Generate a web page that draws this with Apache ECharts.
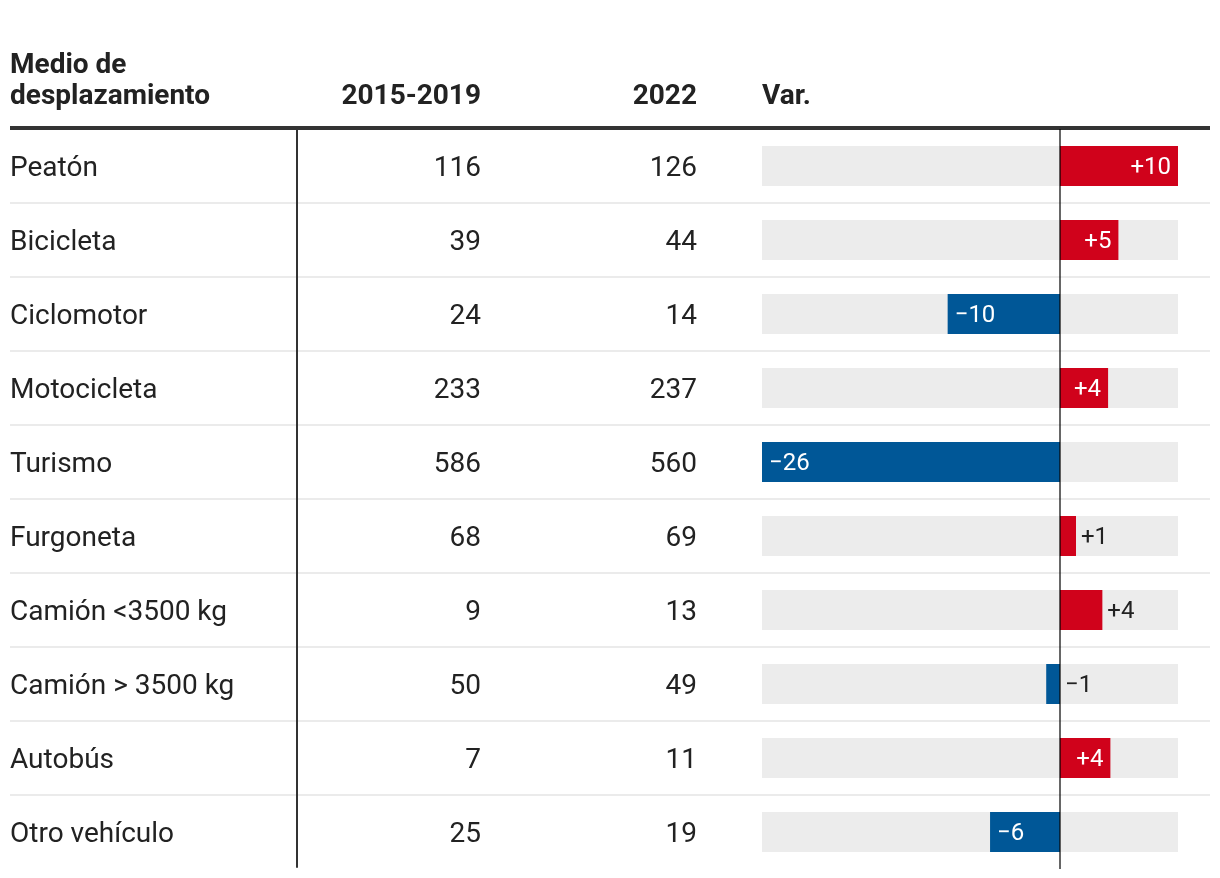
<!DOCTYPE html>
<html>
<head>
<meta charset="utf-8">
<script src="https://cdn.jsdelivr.net/npm/echarts@6/dist/echarts.min.js"></script>
<style>
  html, body { margin: 0; padding: 0; background: #fff; }
  #chart { width: 1220px; height: 878px; }
</style>
</head>
<body>
<div id="chart"></div>
<script>
const categorias = ['Peatón', 'Bicicleta', 'Ciclomotor', 'Motocicleta', 'Turismo', 'Furgoneta', 'Camión <3500 kg', 'Camión > 3500 kg', 'Autobús', 'Otro vehículo'];
const valores2015_2019 = [116, 39, 24, 233, 586, 68, 9, 50, 7, 25];
const valores2022 = [126, 44, 14, 237, 560, 69, 13, 49, 11, 19];
const variacion = [10.3, 5.1, -9.8, 4.2, -26.0, 1.4, 3.7, -1.2, 4.4, -6.1];
const encabezados = ['Medio de\ndesplazamiento', '2015-2019', '2022', 'Var.'];

const ROJO = '#d0021b';
const AZUL = '#005797';
const TXT = '#222222';
const FONT = 'Roboto';

function etiqueta(i) {
  const d = valores2022[i] - valores2015_2019[i];
  return (d > 0 ? '+' : d < 0 ? '\u2212' : '') + Math.abs(d);
}

const barData = variacion.map(function (v, i) {
  const inside = Math.abs(v) >= 4;
  let pos, dist;
  if (inside) { pos = v > 0 ? 'insideRight' : 'insideLeft'; dist = 7; }
  else { pos = 'right'; dist = 5; }
  return {
    value: v,
    itemStyle: { color: v >= 0 ? ROJO : AZUL },
    label: {
      show: true,
      position: pos,
      distance: dist,
      offset: [0, 2],
      color: inside ? '#ffffff' : TXT,
      fontSize: 24,
      fontFamily: FONT,
      formatter: function () { return etiqueta(i); }
    }
  };
});

const hdrStyle = { fontSize: 28, fontWeight: 'bold', color: TXT, fontFamily: FONT, lineHeight: 31 };
const cellLabel = { margin: 0, fontSize: 28, color: TXT, fontFamily: FONT };

const option = {
  animation: false,
  backgroundColor: '#ffffff',
  textStyle: { fontFamily: FONT },
  title: [
    { text: encabezados[0], left: 10, top: 50, padding: 0, textStyle: hdrStyle },
    { text: encabezados[1], right: 1220 - 481, top: 81, padding: 0, textStyle: hdrStyle },
    { text: encabezados[2], right: 1220 - 697, top: 81, padding: 0, textStyle: hdrStyle },
    { text: encabezados[3], left: 762, top: 81, padding: 0, textStyle: hdrStyle }
  ],
  grid: [
    { left: 10, top: 130, width: 287, height: 737 },   // vertical divider
    { left: 10, top: 132, width: 287, height: 740 },   // names
    { left: 481, top: 132, width: 100, height: 740 },  // 2015-2019
    { left: 697, top: 132, width: 60, height: 740 },   // 2022
    { left: 762, top: 129, width: 416, height: 740 },  // bars
    { left: 10, top: 129, width: 1200, height: 666 }   // separators + header rule
  ],
  xAxis: [
    { type: 'value', gridIndex: 0, min: 0, max: 1, show: false },
    { type: 'value', gridIndex: 1, min: 0, max: 1, show: false },
    { type: 'value', gridIndex: 2, min: 0, max: 1, show: false },
    { type: 'value', gridIndex: 3, min: 0, max: 1, show: false },
    { type: 'value', gridIndex: 4, min: Math.min.apply(null, variacion), max: Math.max.apply(null, variacion), show: false },
    { type: 'value', gridIndex: 5, min: 0, max: 1, position: 'top', offset: 1,
      axisLine: { show: true, onZero: false, lineStyle: { color: '#333333', width: 4, cap: 'butt' } },
      axisTick: { show: false }, axisLabel: { show: false }, splitLine: { show: false } }
  ],
  yAxis: [
    { type: 'category', gridIndex: 0, data: categorias, inverse: true, position: 'right',
      axisLine: { show: true, onZero: false, lineStyle: { color: '#333333', width: 2 } }, axisTick: { show: false },
      axisLabel: { show: false } },
    { type: 'category', gridIndex: 1, data: categorias, inverse: true, position: 'left',
      axisLine: { show: false }, axisTick: { show: false },
      axisLabel: Object.assign({ align: 'left' }, cellLabel) },
    { type: 'category', gridIndex: 2, data: categorias, inverse: true, position: 'left',
      axisLine: { show: false }, axisTick: { show: false },
      axisLabel: Object.assign({ align: 'right',
        formatter: function (v, i) { return String(valores2015_2019[i]); } }, cellLabel) },
    { type: 'category', gridIndex: 3, data: categorias, inverse: true, position: 'left',
      axisLine: { show: false }, axisTick: { show: false },
      axisLabel: Object.assign({ align: 'right',
        formatter: function (v, i) { return String(valores2022[i]); } }, cellLabel) },
    { type: 'category', gridIndex: 4, data: categorias, inverse: true, show: false },
    { type: 'value', gridIndex: 5, min: 0, max: 9, interval: 1, inverse: true,
      axisLine: { show: false }, axisTick: { show: false }, axisLabel: { show: false },
      splitLine: { show: true, lineStyle: { color: '#ebebeb', width: 2 } } }
  ],
  series: [
    {
      type: 'bar',
      xAxisIndex: 4,
      yAxisIndex: 4,
      data: barData,
      barWidth: 40,
      showBackground: true,
      backgroundStyle: { color: '#ececec' },
      markLine: {
        silent: true,
        symbol: 'none',
        label: { show: false },
        lineStyle: { color: 'rgba(0,0,0,0.6)', width: 2, type: 'solid' },
        data: [{ xAxis: 0 }]
      }
    }
  ]
};

const chart = echarts.init(document.getElementById('chart'), null, { renderer: 'canvas' });
chart.setOption(option);
</script>
</body>
</html>
